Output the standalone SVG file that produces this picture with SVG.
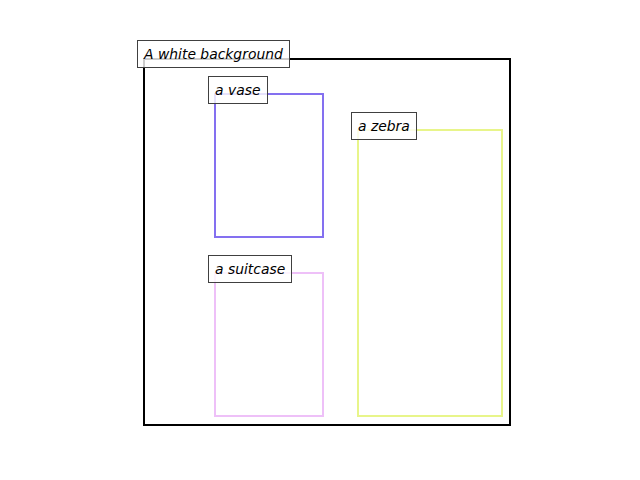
<svg xmlns="http://www.w3.org/2000/svg" width="640" height="480" viewBox="0 0 640 480">
<style>
.r{fill:none;stroke-width:2}
.lb{fill:#ffffff;fill-opacity:0.8;stroke:#404040;stroke-width:1}
.t{font-family:"DejaVu Sans",sans-serif;font-style:oblique;font-size:13.9px;fill:#000}
</style>
<rect width="640" height="480" fill="#fff"/>
<g id="background">
<rect class="r" x="144" y="59" width="366" height="366" stroke="#000"/>
</g>
<g id="vase">
<rect class="r" x="215" y="94" width="108" height="143" stroke="#8470f0"/>
</g>
<g id="zebra">
<rect class="r" x="358" y="130" width="144" height="286" stroke="#e8f58a"/>
</g>
<g id="suitcase">
<rect class="r" x="215" y="273" width="108" height="143" stroke="#eec0f8"/>
</g>
<g id="labels">
<rect class="lb" x="137.5" y="40.5" width="152" height="27"/>
<text class="t" x="144" y="58.5">A white background</text>
<rect class="lb" x="208.5" y="76.5" width="59" height="27"/>
<text class="t" x="215" y="94.5">a vase</text>
<rect class="lb" x="351.5" y="112.5" width="65" height="27"/>
<text class="t" x="358" y="130.5">a zebra</text>
<rect class="lb" x="208.5" y="255.5" width="83" height="27"/>
<text class="t" x="215" y="273.5">a suitcase</text>
</g>
</svg>
